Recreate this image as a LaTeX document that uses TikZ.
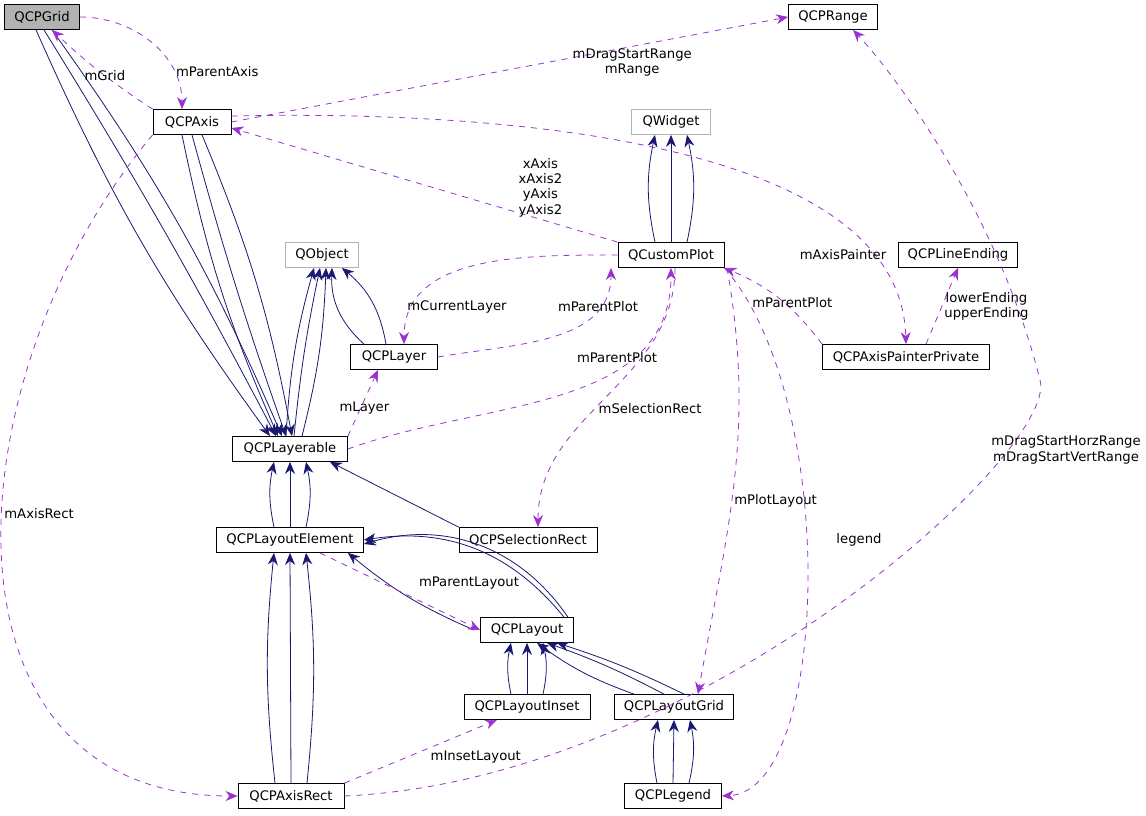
\documentclass[tikz,border=0pt]{standalone}
\usepackage{fontspec}
\setmainfont{DejaVu Sans}
\usetikzlibrary{arrows.meta}
\definecolor{inh}{HTML}{191970}
\definecolor{use}{HTML}{9A32CD}
\begin{document}
\begin{tikzpicture}[x=0.5pt, y=-0.5pt,
    cls/.style={draw, fill=white, inner sep=0pt, minimum height=12.5pt, font=\fontsize{6.6}{7.6}\selectfont},
    ext/.style={cls, draw=gray!60},
    isa/.style={draw=inh, -{Stealth[length=6pt,width=5pt]}},
    has/.style={draw=use, dashed, -{Stealth[length=6pt,width=5pt]}},
    lbl/.style={font=\fontsize{6.6}{7.6}\selectfont, align=center, inner sep=1pt}]
    \useasboundingbox (0,0) rectangle (1146,815);

    % 1. Classes
    \node[cls, fill=gray!60, minimum width=37.5pt] (grid) at (42,17) {QCPGrid};
    \node[cls, minimum width=44.5pt] (range) at (833,17) {QCPRange};
    \node[cls, minimum width=39pt] (axis) at (192,122) {QCPAxis};
    \node[ext, minimum width=39.5pt] (widget) at (671,122) {QWidget};
    \node[ext, minimum width=36.5pt] (object) at (322,255) {QObject};
    \node[cls, minimum width=53pt] (plot) at (671,255) {QCustomPlot};
    \node[cls, minimum width=59.5pt] (ending) at (958,255) {QCPLineEnding};
    \node[cls, minimum width=43.5pt] (layer) at (394,357) {QCPLayer};
    \node[cls, minimum width=83.5pt] (painter) at (906,357) {QCPAxisPainterPrivate};
    \node[cls, minimum width=57.5pt] (layerable) at (290,449) {QCPLayerable};
    \node[cls, minimum width=73.5pt] (element) at (290,540) {QCPLayoutElement};
    \node[cls, minimum width=69pt] (selrect) at (528,540) {QCPSelectionRect};
    \node[cls, minimum width=46.5pt] (layout) at (527,630) {QCPLayout};
    \node[cls, minimum width=63pt] (inset) at (527,707) {QCPLayoutInset};
    \node[cls, minimum width=59.5pt] (lgrid) at (674,707) {QCPLayoutGrid};
    \node[cls, minimum width=53pt] (axisrect) at (291,796) {QCPAxisRect};
    \node[cls, minimum width=48.5pt] (legend) at (673,796) {QCPLegend};

    % 2. Inheritance
    \draw[isa] ([xshift=-3pt]grid.south) to[bend right=6] ([xshift=-10pt]layerable.north);
    \draw[isa] ([xshift=1pt]grid.south) to[bend left=2] ([xshift=-7pt]layerable.north);
    \draw[isa] ([xshift=5pt]grid.south) to[bend left=6] ([xshift=-4pt]layerable.north);
    \draw[isa] ([xshift=-5pt]axis.south) to[bend right=6] ([xshift=-6pt]layerable.north);
    \draw[isa] (axis.south) to[bend right=2] ([xshift=-2pt]layerable.north);
    \draw[isa] ([xshift=5pt]axis.south) to[bend left=6] ([xshift=1pt]layerable.north);
    \draw[isa] ([xshift=-2pt]layerable.north) to[bend left=6] ([xshift=-4pt]object.south);
    \draw[isa] ([xshift=2pt]layerable.north) to[bend left=3] ([xshift=-1pt]object.south);
    \draw[isa] ([xshift=6pt]layerable.north) to[bend right=6] ([xshift=2pt]object.south);
    \draw[isa] ([xshift=-15pt]layer.north) to[bend left=25] ([xshift=5pt]object.south);
    \draw[isa] ([xshift=-4pt]layer.north) to[bend right=20] ([xshift=10pt]object.south);
    \draw[isa] ([xshift=-8pt]plot.north) to[bend left=12] ([xshift=-8pt]widget.south);
    \draw[isa] (plot.north) -- (widget.south);
    \draw[isa] ([xshift=8pt]plot.north) to[bend right=12] ([xshift=8pt]widget.south);
    \draw[isa] ([xshift=-8pt]element.north) to[bend left=12] ([xshift=-8pt]layerable.south);
    \draw[isa] (element.north) -- (layerable.south);
    \draw[isa] ([xshift=8pt]element.north) to[bend right=12] ([xshift=8pt]layerable.south);
    \draw[isa] (selrect.north west) -- ([xshift=20pt]layerable.south);
    \draw[isa] ([xshift=-3pt]layout.west) to[bend left=8] ([xshift=-8pt]element.south east);
    \draw[isa] ([xshift=-5pt]layout.north east) to[bend right=30] (element.east);
    \draw[isa] ([xshift=-3pt]layout.north east) to[bend right=36] ([yshift=-2pt]element.east);
    \draw[isa] ([xshift=-8pt]axisrect.north) to[bend left=6] ([xshift=-8pt]element.south);
    \draw[isa] (axisrect.north) -- (element.south);
    \draw[isa] ([xshift=8pt]axisrect.north) to[bend right=6] ([xshift=8pt]element.south);
    \draw[isa] ([xshift=-8pt]inset.north) to[bend left=12] ([xshift=-8pt]layout.south);
    \draw[isa] (inset.north) -- (layout.south);
    \draw[isa] ([xshift=8pt]inset.north) to[bend right=12] ([xshift=8pt]layout.south);
    \draw[isa] ([xshift=-20pt]lgrid.north) to[bend left=8] ([xshift=5pt]layout.south);
    \draw[isa] ([xshift=-5pt]lgrid.north) to[bend right=4] ([xshift=10pt]layout.south);
    \draw[isa] ([xshift=5pt]lgrid.north) to[bend right=4] ([xshift=15pt]layout.south);
    \draw[isa] ([xshift=-8pt]legend.north) to[bend left=12] ([xshift=-8pt]lgrid.south);
    \draw[isa] (legend.north) -- (lgrid.south);
    \draw[isa] ([xshift=8pt]legend.north) to[bend right=12] ([xshift=8pt]lgrid.south);

    % 3. Usage
    \draw[has] (axis.north west) to[bend left=5] node[lbl, pos=0.45] {mGrid} ([xshift=5pt]grid.south);
    \draw[has] (grid.east) to[out=0, in=90] node[lbl, pos=0.75, right] {mParentAxis} ([xshift=-5pt]axis.north);
    \draw[has] (axis.east) -- node[lbl, pos=0.72, below] {mDragStartRange\\mRange} (range.west);
    \draw[has] (plot.north west) -- node[lbl, pos=0.2, above] {xAxis\\xAxis2\\yAxis\\yAxis2} ([yshift=-3pt]axis.east);
    \draw[has] ([yshift=3pt]axis.east) .. controls (500,110) and (900,140) .. (painter.north);
    \node[lbl] at (843,255) {mAxisPainter};
    \draw[has] (axis.south west) to[out=230, in=180, looseness=1.2] node[lbl, pos=0.45, right] {mAxisRect} (axisrect.west);
    \draw[has] (plot.west) to[out=180, in=90] ([xshift=5pt]layer.north);
    \node[lbl] at (457,307) {mCurrentLayer};
    \draw[has] (layer.east) to[out=10, in=270] ([xshift=-30pt]plot.south);
    \node[lbl] at (598,307) {mParentPlot};
    \draw[has] (layerable.east) to[out=20, in=270] (plot.south);
    \node[lbl] at (617,358) {mParentPlot};
    \draw[has] (layerable.north east) -- node[lbl, pos=0.55, below] {mLayer} ([xshift=-8pt]layer.south);
    \draw[has] ([xshift=2pt]plot.south) to[out=270, in=90] node[lbl, pos=0.55, right] {mSelectionRect} ([xshift=5pt]selrect.north);
    \draw[has] ([xshift=28pt]plot.south) to[out=280, in=80] node[lbl, pos=0.55, right] {mPlotLayout} ([xshift=12pt]lgrid.north);
    \draw[has] (plot.south east) .. controls (840,400) and (830,790) .. (legend.east);
    \node[lbl] at (859,540) {legend};
    \draw[has] (painter.north west) to[bend right=15] node[lbl, pos=0.35, above] {mParentPlot} (plot.south east);
    \draw[has] ([xshift=10pt]painter.north) -- node[lbl, right] {lowerEnding\\upperEnding} (ending.south);
    \draw[has] ([xshift=15pt]element.south) -- (layout.west);
    \node[lbl] at (469,583) {mParentLayout};
    \draw[has] (axisrect.north east) -- node[lbl, pos=0.55, below right] {mInsetLayout} ([xshift=-15pt]inset.south);
    \draw[has] (axisrect.east) .. controls (700,780) and (1060,450) .. (1040,380) .. controls (1000,220) and (900,80) .. ([xshift=10pt]range.south);
    \node[lbl] at (1066,450) {mDragStartHorzRange\\mDragStartVertRange};
\end{tikzpicture}
\end{document}
